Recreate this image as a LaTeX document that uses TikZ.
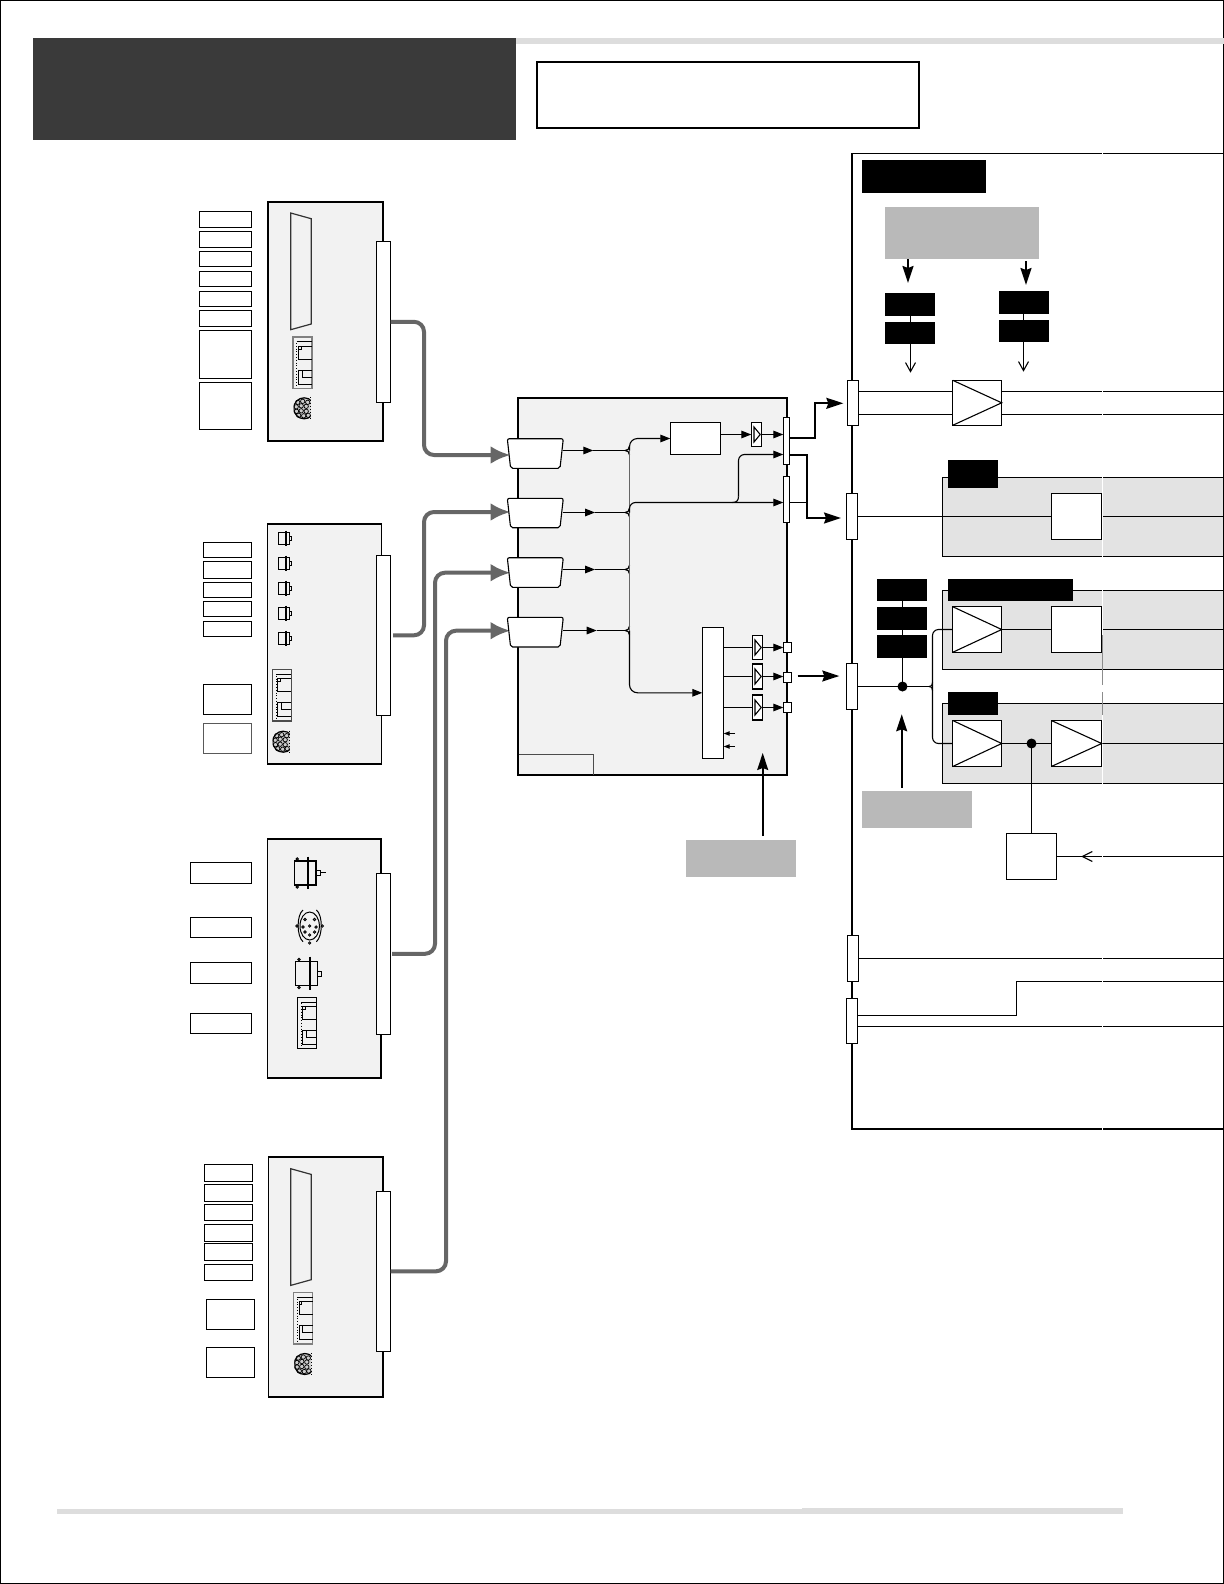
\documentclass[tikz,border=0pt]{standalone}
\usetikzlibrary{arrows.meta,calc}
\definecolor{cardgrey}{HTML}{F2F2F2}
\definecolor{panelgrey}{HTML}{E3E3E3}
\definecolor{notegrey}{HTML}{B9B9B9}
\definecolor{bandgrey}{HTML}{DDDDDD}
\definecolor{headgrey}{HTML}{3A3A3A}
\definecolor{cablegrey}{HTML}{666666}
\tikzset{
  plain/.style={inner sep=0pt,outer sep=0pt,line width=0.55pt},
  nobox/.style={plain},
  lbl/.style={plain,draw=black,fill=white},
  lblg/.style={plain,draw=black!65,fill=white},
  cardbox/.style={plain,draw=black,fill=cardgrey,line width=1pt},
  cardthin/.style={plain,draw=black,fill=cardgrey},
  bar/.style={plain,draw=black,fill=white},
  blackbox/.style={plain,fill=black},
  notebox/.style={plain,fill=notegrey},
  panelbox/.style={plain,draw=black,fill=panelgrey},
  whitebox/.style={plain,draw=black,fill=white},
  thinline/.style={line width=0.55pt,draw=black},
  heavyline/.style={line width=0.85pt,draw=black},
  cardedge/.style={line width=1pt,draw=black},
  cable/.style={line width=2pt,draw=cablegrey,rounded corners=5pt,-{Latex[length=10pt,width=9pt]}},
  midarrow/.style={line width=0.55pt,-{Triangle[length=5pt,width=3.8pt]}},
  tinyarrow/.style={line width=0.55pt,-{Triangle[length=3pt,width=2.2pt]}},
  bigarrow/.style={line width=0.85pt,-{Stealth[length=8.5pt,width=5.5pt,inset=1pt]}},
  openarrow/.style={line width=0.55pt,-{Straight Barb[length=4.5pt,width=5pt]}},
}
\newcommand{\mybx}[6]{%
  \pgfmathsetmacro\bxw{(#4-#2)*0.5}\pgfmathsetmacro\bxh{(#5-#3)*0.5}%
  \node[#6,minimum width=\bxw pt,minimum height=\bxh pt] (#1) at ({(#2+#4)/2},{(#3+#5)/2}) {};}
\newcommand{\muxshape}[1]{%
  \draw[thinline,fill=white,rounded corners=1pt] (#1.north west) -- (#1.north east) -- ($(#1.south east)+(-3.3,0)$) -- ($(#1.south west)+(3.3,0)$) -- cycle;}
\newcommand{\bigamp}[1]{\draw[thinline] (#1.north west) -- (#1.east) -- (#1.south west);}
\newcommand{\smallamp}[1]{\draw[thinline,fill=white] ($(#1.center)+(-2.5,-7.5)$) -- ($(#1.center)+(3.7,0)$) -- ($(#1.center)+(-2.5,7.5)$) -- cycle;}
\newcommand{\forkmark}[1]{%
  \draw[thinline] ({629.5},{#1-4.5}) .. controls ({629.5},{#1-1.5}) and ({627.5},{#1}) .. ({625},{#1}) .. controls ({627.5},{#1}) and ({629.5},{#1+1.5}) .. ({629.5},{#1+4.5});}
\newcommand{\dbicon}[2]{\begin{scope}[shift={(#1,#2)}]
  \draw[line width=0.6pt,black!80] (0,0) -- (20.5,5.7) -- (20.5,111) -- (0,116.7) -- cycle;
  \end{scope}}
\newcommand{\rjicon}[3]{\begin{scope}[shift={(#1,#2)}]
  \draw[line width=0.6pt,#3] (0,0) rectangle (19,51.3);
  \draw[line width=0.4pt,black,densely dotted] (3.7,6) -- (3.7,50);
  \draw[line width=0.45pt,black] (3.7,4.7) -- (19,4.7);
  \draw[line width=0.5pt,black] (19,9) -- (5.5,9) -- (5.5,22) -- (19,22);
  \draw[line width=0.35pt,black] (8,9) -- (8,12) -- (5.5,12);
  \draw[line width=0.5pt,black] (19,33) -- (5.5,33) -- (5.5,47) -- (19,47);
  \draw[line width=0.45pt,black] (9,33) -- (9,40) -- (19,40);
  \end{scope}}
\newcommand{\roundicon}[2]{\begin{scope}[shift={(#1,#2)}]
  \begin{scope}
  \clip (0,-12) rectangle (17,12);
  \draw[line width=0.6pt,black,fill=black!20] (10.5,0) circle [radius=10.5];
  \foreach \a/\b in {4/-6,9/-7,14/-6,2.5/-1.5,7.5/-2.5,12.5/-2,2.8/3,7.5/2.5,12.5/3,5/7,10/7.5,14.5/7}
    \draw[line width=0.35pt,black] (\a,\b) circle [radius=2.2];
  \end{scope}
  \draw[line width=0.5pt,black,densely dotted] (17,-11) -- (17,11);
  \end{scope}}
\newcommand{\smallconn}[2]{\begin{scope}[shift={(#1,#2)}]
  \draw[line width=0.6pt,black] (0,-6) rectangle (11,6);
  \draw[line width=0.9pt,black] (7.7,-7.7) -- (7.7,7.7);
  \draw[line width=0.5pt,black] (11,-2.3) rectangle (13.3,2.3);
  \end{scope}}
\begin{document}
\begin{tikzpicture}[x=0.5pt,y=-0.5pt]
\useasboundingbox (0,0) rectangle (1224,1584);
% page frame, header and bands
\mybx{page}{0.5}{0.7}{1223.5}{1583.5}{plain,draw=black,line width=0.6pt}
\mybx{headband}{515.5}{38}{1224}{44}{plain,fill=bandgrey}
\mybx{head}{33}{38}{515.5}{140}{plain,fill=headgrey}
\mybx{titlebox}{536.5}{62}{919}{128}{plain,draw=black,line width=1pt}
\mybx{footA}{57}{1509}{1123}{1514}{plain,fill=bandgrey}
\mybx{footB}{801.5}{1508}{1123}{1514}{plain,fill=bandgrey}

% ---- cards ----
\mybx{cardA}{268}{202}{383}{441}{cardbox}
\mybx{cardB}{267.5}{524}{381.5}{764}{cardthin}
\draw[cardedge] (cardB.north west) -- (cardB.north east) (cardB.south west) -- (cardB.south east);
\mybx{cardC}{267.5}{839}{381.3}{1078}{cardthin}
\draw[cardedge] (cardC.north west) -- (cardC.north east) -- (cardC.south east) -- (cardC.south west);
\mybx{cardD}{268.5}{1156.7}{382.7}{1397}{cardthin}
\draw[cardedge] (cardD.north west) -- (cardD.north east) -- (cardD.south east) -- (cardD.south west);

% card A labels
\mybx{la1}{199.3}{211.3}{251.7}{227.7}{lbl}
\mybx{la2}{199.3}{231.3}{251.7}{247.3}{lbl}
\mybx{la3}{199.3}{251.3}{251.7}{266.7}{lbl}
\mybx{la4}{199.3}{271.3}{251.7}{286.7}{lbl}
\mybx{la5}{199.3}{291.3}{251.7}{306.7}{lbl}
\mybx{la6}{199.3}{310.3}{251.7}{326.7}{lbl}
\mybx{la7}{199.3}{330.3}{251.7}{378.3}{lbl}
\mybx{la8}{199.3}{382.3}{251.7}{429.3}{lbl}
% card B labels
\mybx{lb1}{203.3}{542.3}{251.7}{557.7}{lbl}
\mybx{lb2}{203.3}{561.3}{251.7}{578.3}{lbl}
\mybx{lb3}{203.3}{582.3}{251.7}{597.3}{lbl}
\mybx{lb4}{203.3}{601.3}{251.7}{616.3}{lbl}
\mybx{lb5}{203.3}{621.3}{251.7}{636.3}{lbl}
\mybx{lb6}{203.3}{684.3}{251.7}{714.3}{lbl}
\mybx{lb7}{203.3}{723.7}{251.7}{753.7}{lblg}
% card C labels
\mybx{lc1}{190.3}{862.3}{251.7}{883.3}{lbl}
\mybx{lc2}{190.3}{917.3}{251.7}{937.3}{lbl}
\mybx{lc3}{190.3}{962.3}{251.7}{983.3}{lbl}
\mybx{lc4}{190.3}{1013.3}{251.7}{1033.3}{lbl}
% card D labels
\mybx{ld1}{204.3}{1164.3}{252.7}{1181.3}{lbl}
\mybx{ld2}{204.3}{1184.3}{252.7}{1201.3}{lbl}
\mybx{ld3}{204.3}{1204.3}{252.7}{1220.3}{lbl}
\mybx{ld4}{204.3}{1224.3}{252.7}{1241.3}{lbl}
\mybx{ld5}{204.3}{1243.3}{252.7}{1260.3}{lbl}
\mybx{ld6}{204.3}{1264.3}{252.7}{1280.3}{lbl}
\mybx{ld7}{206.3}{1299.3}{254.7}{1329.3}{lbl}
\mybx{ld8}{206.3}{1347.3}{254.7}{1377.3}{lbl}

% icons
\dbicon{290.7}{213}
\rjicon{293}{337}{black!50}
\roundicon{293.7}{408.3}
\foreach \yy in {538.3,563.3,588.3,613.3,638.3} {\smallconn{278.3}{\yy}}
\rjicon{272.3}{669.7}{black!70}
\roundicon{272.7}{741.7}
% card C icons
\draw[line width=0.6pt,black] (294.3,861) rectangle (316,885);
\draw[line width=0.9pt,black] (308.3,856.7) -- (308.3,889.3);
\draw[line width=0.5pt,black] (316,870) rectangle (320,875.7);
\draw[line width=0.5pt,black] (320,872.7) -- (325.7,872.7);
\draw[line width=0.5pt,black] (297.3,859) circle [radius=1.2] (297.3,887) circle [radius=1.2];
\draw[line width=0.5pt,black] (309.7,926) ellipse [x radius=9.7,y radius=14];
\draw[line width=0.5pt,black] (303,910) .. controls (296.5,915) and (296.5,936) .. (303,941.7);
\draw[line width=0.5pt,black] (316.4,910) .. controls (322.9,915) and (322.9,936) .. (316.4,941.7);
\foreach \px/\py in {309.7/926,305/919.5,314.5/919.5,303/927,316/927,305/932,314.5/932,309.7/935,297/926,322.3/926,309.7/943}
  \draw[line width=0.4pt,black] (\px,\py) circle [radius=1.2];
\draw[line width=0.6pt,black] (295.7,961.7) rectangle (317.7,985.7);
\draw[line width=0.9pt,black] (310,956.7) -- (310,990);
\draw[line width=0.5pt,black] (317.7,971) rectangle (321,976.7);
\draw[line width=0.5pt,black] (299,959.5) circle [radius=1.2] (299,987.5) circle [radius=1.2];
\rjicon{297.3}{997.3}{black}
% card D icons
\dbicon{290.7}{1168.7}
\rjicon{293.7}{1292.7}{black!50}
\roundicon{294.3}{1364}

% card connector bars
\mybx{barA}{376.3}{241.3}{390.7}{402.3}{bar}
\mybx{barB}{376.3}{555.3}{390.7}{715.3}{bar}
\mybx{barC}{376.3}{873.3}{390.7}{1034.3}{bar}
\mybx{barD}{376.3}{1191.3}{390.7}{1351.3}{bar}

% ---- central block ----
\mybx{core}{517.7}{398}{787.3}{775}{cardbox}
\mybx{corner}{518.7}{754}{593.7}{775}{nobox}
\draw[line width=0.5pt,black!70] (corner.north west) -- (corner.north east) -- (corner.south east);
\mybx{inA}{507.3}{438.7}{563.3}{468.3}{nobox}
\mybx{inB}{507.3}{498.3}{563.3}{527.7}{nobox}
\mybx{inC}{507.3}{557.7}{563.3}{587.3}{nobox}
\mybx{inD}{507.3}{617.3}{563.3}{647}{nobox}

% cables
\coordinate (kA) at (424,0);\coordinate (kB) at (424,0);\coordinate (kC) at (435,0);\coordinate (kD) at (446,0);
\coordinate (cA) at (510.5,455);\coordinate (cB) at (510.5,512);\coordinate (cC) at (510.5,572.7);\coordinate (cD) at (510.5,630.7);
\draw[cable] (barA.east) -- (barA.east -| kA) -- (kA |- cA) -- (cA);
\draw[cable] ($(barB.east)+(2.5,0)$) -- (barB.east -| kB) -- (kB |- cB) -- (cB);
\draw[cable] ($(barC.east)+(1.5,0)$) -- (barC.east -| kC) -- (kC |- cC) -- (cC);
\draw[cable] (barD.east) -- (barD.east -| kD) -- (kD |- cD) -- (cD);
\muxshape{inA}\muxshape{inB}\muxshape{inC}\muxshape{inD}

\mybx{conv}{670.3}{422.5}{720.3}{454.5}{whitebox}
\mybx{ampT}{751.3}{422.5}{761.7}{446.5}{whitebox}
\mybx{barU}{783.3}{417.7}{789.3}{464.3}{nobox}
\mybx{barL}{783.3}{476.3}{789.3}{522.3}{nobox}
\mybx{muxB}{702.3}{627.3}{723.7}{758.3}{whitebox}
\mybx{amp1}{752.3}{635.5}{762.7}{659.5}{whitebox}
\mybx{amp2}{752.3}{664}{762.7}{689}{whitebox}
\mybx{amp3}{752.3}{695}{762.7}{720}{whitebox}
\mybx{sq1}{783.3}{642.3}{791.7}{652.7}{nobox}
\mybx{sq2}{783.3}{672.3}{791.7}{682.7}{nobox}
\mybx{sq3}{783.3}{702.3}{791.7}{712.7}{nobox}

% bus
\coordinate (busx) at (629.5,0);
\coordinate (oA) at (593.3,450.5);\coordinate (oB) at (595,512.5);\coordinate (oC) at (595,569.5);\coordinate (oD) at (596.7,630.5);
\draw[midarrow] (inA.east |- oA) -- (oA);
\draw[midarrow] (inB.east |- oB) -- (oB);
\draw[midarrow] (inC.east |- oC) -- (oC);
\draw[midarrow] (inD.east |- oD) -- (oD);
\draw[thinline] (oA) -- ($(busx |- oA)+(-4,0)$);
\draw[thinline] (oB) -- ($(busx |- oB)+(-4,0)$);
\draw[thinline] (oC) -- ($(busx |- oC)+(-4,0)$);
\draw[thinline] (oD) -- ($(busx |- oD)+(-4,0)$);
\forkmark{450.5}\forkmark{512.5}\forkmark{569.5}\forkmark{630.5}
\draw[midarrow,rounded corners=4pt] (busx |- oA) -- (busx |- conv.west) -- (conv.west);
\draw[midarrow,rounded corners=4pt] (busx |- oD) -- (busx |- muxB.west) -- (muxB.west);
\draw[line width=0.6pt,black!60] (busx |- oA) -- (busx |- oD);
% branch to output bars
\coordinate (brY) at (0,502.5);
\coordinate (brX) at (738.5,0);
\coordinate (tU) at (0,454.5);
\draw[midarrow,rounded corners=3pt] (busx |- oB) -- (busx |- brY) -- (barL.west |- brY);
\draw[thinline] ($(brX |- brY)+(-6,0)$) .. controls ($(brX |- brY)+(-2,0)$) and ($(brX |- brY)+(0,-2)$) .. ($(brX |- brY)+(0,-6)$);
\draw[midarrow,rounded corners=3pt] ($(brX |- brY)+(0,-6)$) -- (brX |- tU) -- (barU.west |- tU);
\draw[midarrow] (conv.east |- ampT.west) -- (ampT.west);
\draw[midarrow] (ampT.east) -- (barU.west |- ampT.east);
\draw[thinline] (muxB.east |- amp1.west) -- (amp1.west);
\draw[thinline] (muxB.east |- amp2.west) -- (amp2.west);
\draw[thinline] (muxB.east |- amp3.west) -- (amp3.west);
\draw[midarrow] (amp1.east) -- (sq1.west |- amp1.east);
\draw[midarrow] (amp2.east) -- (sq2.west |- amp2.east);
\draw[midarrow] (amp3.east) -- (sq3.west |- amp3.east);
\smallamp{ampT}\smallamp{amp1}\smallamp{amp2}\smallamp{amp3}
\coordinate (cs1) at (735,733.5);\coordinate (cs2) at (735,746.5);
\draw[tinyarrow] (cs1) -- (muxB.east |- cs1);
\draw[tinyarrow] (cs2) -- (muxB.east |- cs2);

\node[plain,draw=black,fill=white,minimum width=3pt,minimum height=23.3pt] (barUv) at (barU.center) {};
\node[plain,draw=black,fill=white,minimum width=3pt,minimum height=23pt] (barLv) at (barL.center) {};
\node[plain,draw=black,fill=white,minimum width=4.2pt,minimum height=5.2pt] (sq1v) at (sq1.center) {};
\node[plain,draw=black,fill=white,minimum width=4.2pt,minimum height=5.2pt] (sq2v) at (sq2.center) {};
\node[plain,draw=black,fill=white,minimum width=4.2pt,minimum height=5.2pt] (sq3v) at (sq3.center) {};

% note under core
\mybx{noteC}{686}{839.5}{796}{876.5}{notebox}
\coordinate (noteCup) at (762.7,836);
\coordinate (noteCtip) at (762.7,753);
\draw[bigarrow] (noteCup) -- (noteCtip);

% ---- right panel ----
\mybx{panel}{852}{153.7}{1223.3}{1129}{plain,draw=black}
\draw[line width=1pt,black] (panel.north west) -- (panel.south west) -- (panel.south east);
\mybx{title2}{862}{160}{986}{193}{blackbox}
\mybx{noteT}{885}{207}{1039}{259}{notebox}
\mybx{nl1}{885}{293}{935}{315.7}{blackbox}
\mybx{nl2}{885}{322}{935}{343.7}{blackbox}
\mybx{nr1}{999}{291}{1049}{313.7}{blackbox}
\mybx{nr2}{999}{320}{1049}{341.7}{blackbox}
\coordinate (alT) at (908,259);\coordinate (alB) at (908,283);
\coordinate (arT) at (1026,261);\coordinate (arB) at (1026,285);
\draw[bigarrow,line width=1pt] (alT) -- (alB);
\draw[bigarrow,line width=1pt] (arT) -- (arB);
\coordinate (oL) at (910.5,372.7);\coordinate (oR) at (1023.5,371.7);
\draw[thinline] (nl1.south -| oL) -- (nl2.north -| oL);
\draw[thinline] (nr1.south -| oR) -- (nr2.north -| oR);
\draw[openarrow] (nl2.south -| oL) -- (oL);
\draw[openarrow] (nr2.south -| oR) -- (oR);

\mybx{p1}{942.7}{477.3}{1223.3}{556.3}{panelbox}
\mybx{p2}{942.7}{590.3}{1223.3}{669.3}{panelbox}
\mybx{p3}{942.7}{703.3}{1223.3}{783.3}{panelbox}

\mybx{barP1}{847.3}{380.3}{858.7}{425.3}{nobox}
\mybx{barP2}{846.3}{493.5}{857.7}{539.5}{nobox}
\mybx{barP3}{846.3}{663.5}{857.7}{709.5}{nobox}
\mybx{barP4}{847.3}{935.3}{858.7}{981.3}{nobox}
\mybx{barP5}{846.3}{998.3}{857.7}{1043.3}{nobox}
\mybx{rightEdge}{1223.3}{153.7}{1223.3}{1129}{nobox}

\mybx{ampA}{952.7}{380.3}{1001.7}{425.3}{nobox}
\mybx{boxB}{1051.3}{493.7}{1101.7}{539.3}{nobox}
\mybx{ampC}{952.7}{606.7}{1001.7}{652.3}{nobox}
\mybx{boxD}{1051.3}{606.7}{1101.7}{652.3}{nobox}
\mybx{ampE}{952.7}{720.5}{1001.7}{766.5}{nobox}
\mybx{ampF}{1051.3}{720.5}{1101.7}{766.5}{nobox}
\mybx{sumB}{1006.3}{833.3}{1056.7}{879.3}{nobox}

% signal lines
\coordinate (y1) at (0,391.5);\coordinate (y2) at (0,414.5);
\draw[thinline] (barP1.east |- y1) -- (rightEdge.center |- y1);
\draw[thinline] (barP1.east |- y2) -- (rightEdge.center |- y2);
\draw[thinline] (barP2.east) -- (rightEdge.center |- barP2.east);
\draw[thinline] (ampC.east) -- (boxD.west);
\draw[thinline] (boxD.east) -- (rightEdge.center |- boxD.east);
\draw[thinline] (ampE.east) -- (ampF.west);
\draw[thinline] (ampF.east) -- (rightEdge.center |- ampF.east);
\coordinate (bus2) at (932.5,0);
\coordinate (dot1) at (902.5,686.5);
\draw[thinline] (barP3.east |- dot1) -- ($(bus2 |- dot1)+(-3,0)$);
\draw[thinline,rounded corners=3pt] (ampC.west) -- (bus2 |- ampC.west) -- (bus2 |- ampE.west) -- (ampE.west);
\draw[thinline] ($(bus2 |- dot1)+(-3.5,0)$) .. controls ($(bus2 |- dot1)+(-1,0)$) and ($(bus2 |- dot1)+(0,-1)$) .. ($(bus2 |- dot1)+(0,-4)$);
\draw[thinline] ($(bus2 |- dot1)+(-3.5,0)$) .. controls ($(bus2 |- dot1)+(-1,0)$) and ($(bus2 |- dot1)+(0,1)$) .. ($(bus2 |- dot1)+(0,4)$);

% lower lines
\coordinate (y4) at (0,958.5);\coordinate (y5) at (0,1015.5);\coordinate (y6) at (0,981.5);\coordinate (y7) at (0,1026.5);\coordinate (kink) at (1016.5,0);
\draw[thinline] (barP4.east |- y4) -- (rightEdge.center |- y4);
\draw[thinline] (barP5.east |- y5) -- (kink |- y5) -- (kink |- y6) -- (rightEdge.center |- y6);
\draw[thinline] (barP5.east |- y7) -- (rightEdge.center |- y7);
% feedback
\coordinate (fbTip) at (1082.3,856.5);
\draw[thinline] (rightEdge.center |- fbTip) -- (sumB.east |- fbTip);
\draw[line width=0.55pt] ($(fbTip)+(10,-5)$) -- (fbTip) -- ($(fbTip)+(10,5)$);
\coordinate (dot2) at (1031.5,743.5);
\draw[thinline] (dot2) -- (dot2 |- sumB.north);

% seam
\draw[white,line width=0.25pt] (1102.4,153) -- (1102.4,1130);
\draw[black!45,line width=0.5pt] (1102.4,635) -- (1102.4,685) (1102.4,692.3) -- (1102.4,715);

% boxes of the right panel
\node[plain,draw=black,fill=white,minimum width=24.5pt,minimum height=22.5pt] (ampAv) at (ampA.center) {};\bigamp{ampA}
\node[plain,draw=black,fill=white,minimum width=25.2pt,minimum height=22.8pt] (boxBv) at (boxB.center) {};
\node[plain,draw=black,fill=white,minimum width=24.5pt,minimum height=22.8pt] (ampCv) at (ampC.center) {};\bigamp{ampC}
\node[plain,draw=black,fill=white,minimum width=25.2pt,minimum height=22.8pt] (boxDv) at (boxD.center) {};
\node[plain,draw=black,fill=white,minimum width=24.5pt,minimum height=23pt] (ampEv) at (ampE.center) {};\bigamp{ampE}
\node[plain,draw=black,fill=white,minimum width=25.2pt,minimum height=23pt] (ampFv) at (ampF.center) {};\bigamp{ampF}
\node[plain,draw=black,fill=white,minimum width=25.2pt,minimum height=23pt] (sumBv) at (sumB.center) {};
\node[plain,circle,fill=black,minimum size=5pt] (dotA) at (dot1) {};
\node[plain,circle,fill=black,minimum size=5pt] (dotB) at (dot2) {};

% black tags
\mybx{tagB}{948}{460}{998}{488}{blackbox}
\mybx{tagC}{948}{579}{1073}{601}{blackbox}
\mybx{tagE}{948}{692}{998}{715}{blackbox}
\mybx{nm1}{877}{579}{927}{601}{blackbox}
\mybx{nm2}{877}{607}{927}{630}{blackbox}
\mybx{nm3}{877}{635}{927}{658}{blackbox}
\draw[thinline] (nm1.south -| dotA) -- (nm2.north -| dotA);
\draw[thinline] (nm2.south -| dotA) -- (nm3.north -| dotA);
\draw[thinline] (nm3.south -| dotA) -- (dotA.north);

% panel bars
\node[plain,draw=black,fill=white,minimum width=5.7pt,minimum height=22.5pt] (barP1v) at (barP1.center) {};
\node[plain,draw=black,fill=white,minimum width=5.7pt,minimum height=23pt] (barP2v) at (barP2.center) {};
\node[plain,draw=black,fill=white,minimum width=5.7pt,minimum height=23pt] (barP3v) at (barP3.center) {};
\node[plain,draw=black,fill=white,minimum width=5.7pt,minimum height=23pt] (barP4v) at (barP4.center) {};
\node[plain,draw=black,fill=white,minimum width=5.7pt,minimum height=22.5pt] (barP5v) at (barP5.center) {};

% links from core to panel
\coordinate (kU) at (815,437.7);
\draw[bigarrow] (barU.east |- kU) -- (kU) |- ($(barP1.west)+(-4,0.5)$);
\coordinate (kL) at (806.7,455);
\coordinate (kLt) at (841,518);
\draw[bigarrow] (barU.east |- kL) -- (kL) |- (kLt);
\draw[heavyline] (barL.east |- brY) -- (kL |- brY);
\coordinate (core3s) at (797.7,676);
\coordinate (core3e) at (839.3,676);
\draw[bigarrow] (core3s) -- (core3e);

% note below
\mybx{noteM}{862}{791}{972}{827.7}{notebox}
\coordinate (noteMup) at (901.7,787.7);
\coordinate (noteMtip) at (901.7,714.3);
\draw[bigarrow] (noteMup) -- (noteMtip);
\end{tikzpicture}
\end{document}
